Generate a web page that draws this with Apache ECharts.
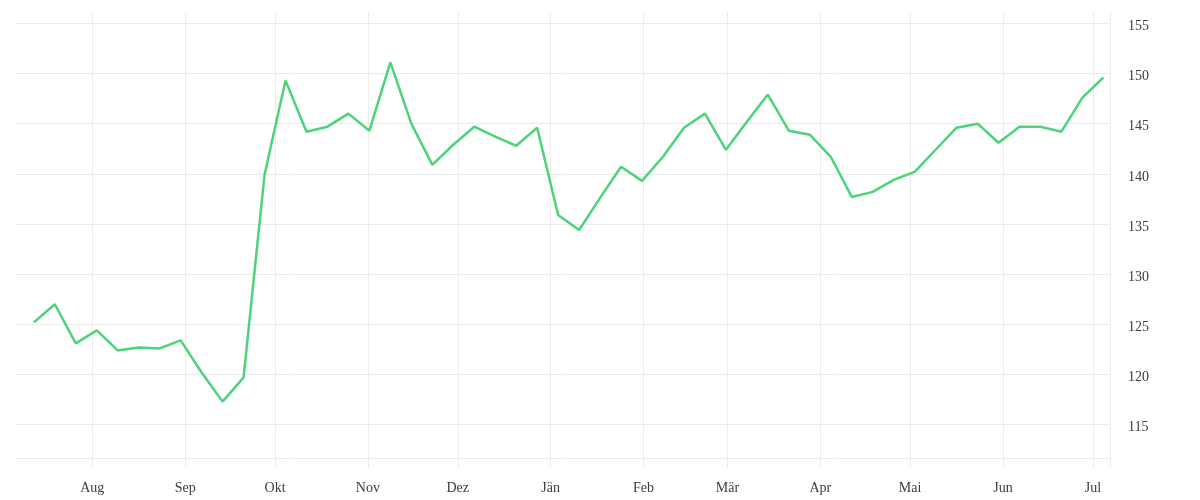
<!DOCTYPE html>
<html>
<head>
<meta charset="utf-8">
<script src="https://cdn.jsdelivr.net/npm/echarts@6/dist/echarts.min.js"></script>
<style>
  html, body { margin: 0; padding: 0; background: #fff; }
  #main { width: 1200px; height: 500px; }
</style>
</head>
<body>
<div id="main"></div>
<script>
// weekly dates
var dates = [
  '2022-07-12', '2022-07-19', '2022-07-26', '2022-08-02', '2022-08-09', '2022-08-16',
  '2022-08-23', '2022-08-30', '2022-09-06', '2022-09-13', '2022-09-20', '2022-09-27',
  '2022-10-04', '2022-10-11', '2022-10-18', '2022-10-25', '2022-11-01', '2022-11-08',
  '2022-11-15', '2022-11-22', '2022-11-29', '2022-12-06', '2022-12-13', '2022-12-20',
  '2022-12-27', '2023-01-03', '2023-01-10', '2023-01-17', '2023-01-24', '2023-01-31',
  '2023-02-07', '2023-02-14', '2023-02-21', '2023-02-28', '2023-03-07', '2023-03-14',
  '2023-03-21', '2023-03-28', '2023-04-04', '2023-04-11', '2023-04-18', '2023-04-25',
  '2023-05-02', '2023-05-09', '2023-05-16', '2023-05-23', '2023-05-30', '2023-06-06',
  '2023-06-13', '2023-06-20', '2023-06-27', '2023-07-04'
];
var values = [
  125.2, 127.0, 123.1, 124.4, 122.4, 122.7, 122.6, 123.4, 120.2, 117.3, 119.7, 139.9,
  149.3, 144.2, 144.7, 146.0, 144.3, 151.1, 145.0, 140.9, 142.9, 144.7, 143.7, 142.8,
  144.6, 135.9, 134.4, 137.6, 140.7, 139.3, 141.7, 144.6, 146.0, 142.4, 145.2, 147.9,
  144.3, 143.9, 141.7, 137.7, 138.2, 139.4, 140.2, 142.4, 144.6, 145.0, 143.1, 144.7,
  144.7, 144.2, 147.6, 149.6
];
var monthTicks = [
  '2022-08-01', '2022-09-01', '2022-10-01', '2022-11-01', '2022-12-01', '2023-01-01',
  '2023-02-01', '2023-03-01', '2023-04-01', '2023-05-01', '2023-06-01', '2023-07-01'
];
var monthNames = ['Jän', 'Feb', 'Mär', 'Apr', 'Mai', 'Jun', 'Jul', 'Aug', 'Sep', 'Okt', 'Nov', 'Dez'];
var yTicks = [115, 120, 125, 130, 135, 140, 145, 150, 155];

function ts(s) { return new Date(s).getTime(); }

var xMin = ts('2022-07-06T05:00:00');
var xMax = ts('2023-07-06T17:00:00');
var tickTimes = monthTicks.map(function (d) { return ts(d + 'T00:00:00'); });

var gridColor = '#ebebeb';
var font = '"Liberation Serif", "DejaVu Serif", serif';

var chart = echarts.init(document.getElementById('main'));
chart.setOption({
  animation: false,
  grid: { left: 15, right: 90, top: 12, bottom: 42, containLabel: false },
  xAxis: {
    type: 'value',
    min: xMin,
    max: xMax,
    axisLine: { show: true, lineStyle: { color: gridColor, width: 1 } },
    axisTick: {
      show: true, length: 10, customValues: tickTimes.concat([xMax]),
      lineStyle: { color: gridColor, width: 1 }
    },
    splitLine: { show: true, lineStyle: { color: gridColor, width: 1 } },
    axisLabel: {
      customValues: tickTimes,
      margin: 23,
      color: '#3c3c3c',
      fontFamily: font,
      fontSize: 14,
      formatter: function (v) { return monthNames[new Date(v).getMonth()]; }
    }
  },
  yAxis: {
    type: 'value',
    position: 'right',
    min: 111.68,
    max: 156.13,
    axisLine: { show: true, lineStyle: { color: gridColor, width: 1 } },
    axisTick: { show: false, customValues: yTicks },
    splitLine: { show: true, lineStyle: { color: gridColor, width: 1 } },
    axisLabel: {
      customValues: yTicks,
      margin: 18,
      verticalAlign: 'top',
      lineHeight: 6,
      color: '#3c3c3c',
      fontFamily: font,
      fontSize: 14
    }
  },
  series: [{
    type: 'line',
    data: dates.map(function (d, i) { return [ts(d + 'T12:00:00'), values[i]]; }),
    showSymbol: false,
    lineStyle: { color: '#4cd37b', width: 2.5 },
    itemStyle: { color: '#4cd37b' }
  }]
});
</script>
</body>
</html>
